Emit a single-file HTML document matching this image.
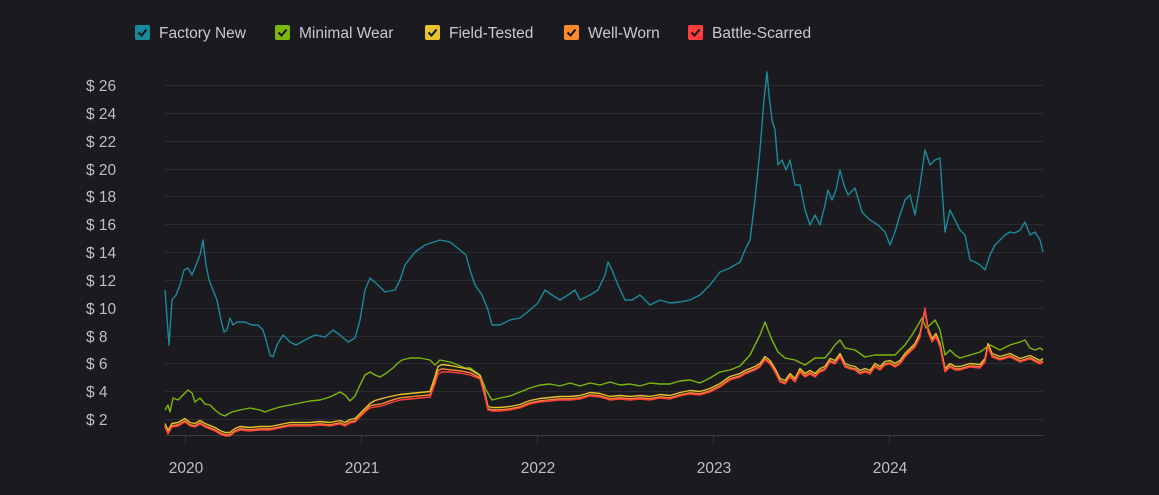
<!DOCTYPE html>
<html><head><meta charset="utf-8"><style>
html,body{margin:0;padding:0;background:#1b1a1f;width:1159px;height:495px;overflow:hidden;font-family:"Liberation Sans",sans-serif}
</style></head><body>
<svg width="1159" height="495" xmlns="http://www.w3.org/2000/svg">
<rect width="1159" height="495" fill="#1b1a1f"/>
<g font-size="15.5" fill="#c5c9d3">
<rect x="135" y="25" width="15" height="15" rx="2" fill="#178a9a"/><path d="M138.5 32.5l3 3 5-6" stroke="#111" stroke-width="2" fill="none"/><text x="159" y="38">Factory New</text>
<rect x="275" y="25" width="15" height="15" rx="2" fill="#7cb70a"/><path d="M278.5 32.5l3 3 5-6" stroke="#111" stroke-width="2" fill="none"/><text x="299" y="38">Minimal Wear</text>
<rect x="425" y="25" width="15" height="15" rx="2" fill="#e8c22a"/><path d="M428.5 32.5l3 3 5-6" stroke="#111" stroke-width="2" fill="none"/><text x="449" y="38">Field-Tested</text>
<rect x="564" y="25" width="15" height="15" rx="2" fill="#ff8a2b"/><path d="M567.5 32.5l3 3 5-6" stroke="#111" stroke-width="2" fill="none"/><text x="588" y="38">Well-Worn</text>
<rect x="688" y="25" width="15" height="15" rx="2" fill="#ff3d3d"/><path d="M691.5 32.5l3 3 5-6" stroke="#111" stroke-width="2" fill="none"/><text x="712" y="38">Battle-Scarred</text>
</g>
<g stroke="#2c2c33" stroke-width="1">
<line x1="165" x2="1043" y1="85.5" y2="85.5"/><line x1="165" x2="1043" y1="113.5" y2="113.5"/><line x1="165" x2="1043" y1="141.5" y2="141.5"/><line x1="165" x2="1043" y1="169.5" y2="169.5"/><line x1="165" x2="1043" y1="196.5" y2="196.5"/><line x1="165" x2="1043" y1="224.5" y2="224.5"/><line x1="165" x2="1043" y1="252.5" y2="252.5"/><line x1="165" x2="1043" y1="280.5" y2="280.5"/><line x1="165" x2="1043" y1="308.5" y2="308.5"/><line x1="165" x2="1043" y1="336.5" y2="336.5"/><line x1="165" x2="1043" y1="363.5" y2="363.5"/><line x1="165" x2="1043" y1="391.5" y2="391.5"/><line x1="165" x2="1043" y1="419.5" y2="419.5"/>
</g>
<line x1="165" x2="1043" y1="435.5" y2="435.5" stroke="#3a3a42"/>
<g stroke="#3a3a42"><line x1="185.5" x2="185.5" y1="435" y2="443"/><line x1="361.5" x2="361.5" y1="435" y2="443"/><line x1="537.5" x2="537.5" y1="435" y2="443"/><line x1="713.5" x2="713.5" y1="435" y2="443"/><line x1="889.5" x2="889.5" y1="435" y2="443"/></g>
<g font-size="15.5" fill="#b9bfcc">
<text x="86" y="91">$ 26</text><text x="86" y="119">$ 24</text><text x="86" y="147">$ 22</text><text x="86" y="175">$ 20</text><text x="86" y="202">$ 18</text><text x="86" y="230">$ 16</text><text x="86" y="258">$ 14</text><text x="86" y="286">$ 12</text><text x="86" y="314">$ 10</text><text x="86" y="342">$ 8</text><text x="86" y="369">$ 6</text><text x="86" y="397">$ 4</text><text x="86" y="425">$ 2</text>
<g text-anchor="middle"><text x="186" y="473">2020</text><text x="362" y="473">2021</text><text x="538" y="473">2022</text><text x="714" y="473">2023</text><text x="890" y="473">2024</text></g>
</g>
<g fill="none" stroke-width="1.4" stroke-linejoin="round">
<polyline stroke="#1b8a9a" points="165,290 167,318 169,345 172,300 176,295 180,285 184,270 188,268 192,275 196,265 200,255 203,240 206,265 209,280 213,290 217,300 221,320 224,332 227,330 230,318 233,325 237,322 245,322 252,325 258,325 263,330 266,340 270,355 273,357 277,345 283,335 290,342 296,345 305,340 315,335 325,337 333,330 340,335 348,342 355,338 360,320 365,290 370,278 378,285 385,292 395,290 400,280 405,265 415,252 425,245 440,240 450,242 460,250 466,255 470,270 475,285 482,295 488,310 492,325 500,325 510,320 520,318 530,310 538,303 545,290 552,295 560,300 568,295 575,290 580,300 590,295 598,290 605,275 608,262 612,270 618,285 625,300 632,300 640,295 650,305 660,300 670,303 680,302 690,300 700,295 710,285 720,272 730,268 740,262 745,250 750,240 755,200 760,150 764,100 767,72 769,95 772,120 775,130 778,165 782,160 786,170 790,160 795,185 800,185 805,210 810,225 815,215 820,225 825,205 828,190 832,200 836,190 840,170 844,185 848,195 855,188 862,212 870,220 878,225 885,232 890,245 895,232 900,215 905,200 910,195 915,215 920,185 925,150 930,165 935,160 940,158 945,232 950,210 955,220 960,230 965,235 970,260 975,262 980,265 985,270 990,255 995,245 1000,240 1005,235 1010,232 1015,233 1020,230 1025,222 1030,235 1035,232 1040,240 1043,252"/>
<polyline stroke="#7cb70a" points="165,410 168,405 170,412 173,398 178,400 183,395 188,390 192,393 195,402 200,398 205,404 210,405 215,410 220,414 225,416 228,414 232,412 240,410 250,408 260,410 265,412 270,410 280,407 290,405 300,403 310,401 320,400 330,397 340,392 345,395 350,401 355,396 360,385 365,375 370,372 375,375 380,377 385,374 393,368 398,363 402,360 410,358 420,358 430,360 435,365 440,360 450,362 458,365 465,368 470,368 480,375 486,390 492,400 500,398 510,396 520,392 530,388 540,385 550,384 560,386 570,383 580,386 590,383 600,385 610,382 620,385 630,384 640,386 650,383 660,384 670,384 680,381 690,380 700,383 710,378 720,372 730,370 740,366 750,355 755,345 760,335 765,322 768,330 772,340 778,352 785,358 795,360 805,365 815,358 825,358 830,352 835,345 840,340 845,348 855,350 865,357 875,355 885,355 895,355 905,345 912,335 918,325 922,318 926,328 930,325 935,320 940,330 945,355 950,350 955,355 960,358 970,355 980,352 990,345 1000,350 1010,345 1020,342 1025,340 1030,348 1035,350 1040,348 1043,350"/>
<polyline id="ft" stroke="#e8c22a" transform="translate(0,-1.5)" points="165,425 168,432 172,425 178,424 185,420 190,424 195,425 200,422 205,425 210,427 215,429 220,432 225,434 230,434 235,430 240,428 250,429 260,428 270,428 280,426 290,424 300,424 310,424 320,423 330,424 340,422 345,424 350,421 355,420 360,415 365,410 370,405 375,402 382,400 390,398 400,396 410,395 420,394 430,393 435,378 438,368 442,366 450,367 460,369 470,371 480,377 485,395 488,408 492,409 500,409 510,408 520,406 530,402 540,400 550,399 560,398 570,398 580,397 590,394 600,395 610,398 620,397 630,398 640,397 650,398 660,396 670,397 680,394 690,392 700,393 710,390 720,385 730,378 740,375 745,372 750,370 755,368 760,365 765,358 770,362 775,370 780,380 785,382 790,375 795,380 800,370 805,375 810,372 815,375 820,370 825,368 830,360 835,362 840,355 845,365 850,367 855,368 860,372 865,370 870,372 875,365 880,368 885,363 890,362 895,365 900,362 905,355 910,350 915,345 920,335 925,310 928,330 932,340 936,335 940,345 945,370 950,365 955,368 960,368 970,365 980,366 985,360 988,345 992,355 1000,358 1010,355 1020,360 1030,357 1040,362 1043,360"/>
<polyline stroke="#ff8a2b" transform="translate(0,0.8)" points="165,425 168,432 172,425 178,424 185,420 190,424 195,425 200,422 205,425 210,427 215,429 220,432 225,434 230,434 235,430 240,428 250,429 260,428 270,428 280,426 290,424 300,424 310,424 320,423 330,424 340,422 345,424 350,421 355,420 360,415 365,410 370,405 375,404 382,403 390,400 400,397 410,396 420,395 430,394 435,380 438,370 442,368 450,369 460,370 470,372 480,377 485,395 488,408 492,409 500,409 510,408 520,406 530,402 540,400 550,399 560,398 570,398 580,397 590,394 600,395 610,398 620,397 630,398 640,397 650,398 660,396 670,397 680,394 690,392 700,393 710,390 720,385 730,378 740,375 745,372 750,370 755,368 760,365 765,358 770,362 775,370 780,380 785,382 790,375 795,380 800,370 805,375 810,372 815,375 820,370 825,368 830,360 835,362 840,355 845,365 850,367 855,368 860,372 865,370 870,372 875,365 880,368 885,363 890,362 895,365 900,362 905,355 910,350 915,345 920,335 925,310 928,330 932,340 936,335 940,345 945,370 950,365 955,368 960,368 970,365 980,366 985,360 988,345 992,355 1000,358 1010,355 1020,360 1030,357 1040,362 1043,360"/>
<polyline stroke="#ff3d3d" transform="translate(0,2)" points="165,425 168,432 172,425 178,424 185,420 190,424 195,425 200,422 205,425 210,427 215,429 220,432 225,434 230,434 235,430 240,428 250,429 260,428 270,428 280,426 290,424 300,424 310,424 320,423 330,424 340,422 345,424 350,421 355,420 360,415 365,410 370,406 375,405 382,404 390,401 400,398 410,397 420,396 430,395 435,382 438,372 442,370 450,370 460,371 470,373 480,377 485,395 488,408 492,409 500,409 510,408 520,406 530,402 540,400 550,399 560,398 570,398 580,397 590,394 600,395 610,398 620,397 630,398 640,397 650,398 660,396 670,397 680,394 690,392 700,393 710,390 720,385 730,378 740,375 745,372 750,370 755,368 760,365 765,358 770,362 775,370 780,380 785,382 790,375 795,380 800,370 805,375 810,372 815,375 820,370 825,368 830,360 835,362 840,355 845,365 850,367 855,368 860,372 865,370 870,372 875,365 880,368 885,363 890,362 895,365 900,362 905,355 910,350 915,345 920,335 925,306 928,330 932,340 936,335 940,345 945,370 950,365 955,368 960,368 970,365 980,366 985,360 988,345 992,355 1000,358 1010,355 1020,360 1030,357 1040,362 1043,360"/>
</g>
</svg>
</body></html>
